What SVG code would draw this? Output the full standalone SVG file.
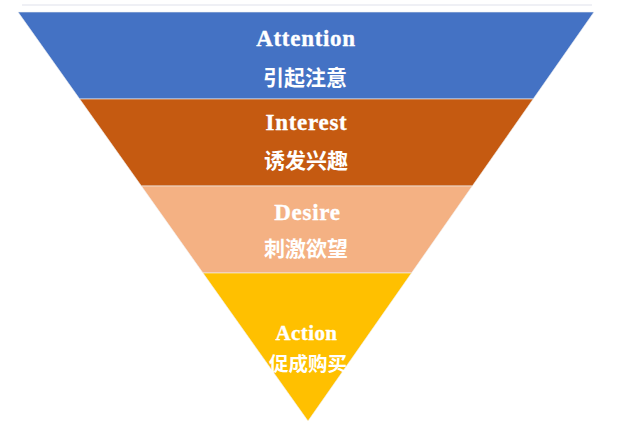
<svg xmlns="http://www.w3.org/2000/svg" width="640" height="425" viewBox="0 0 640 425">
  <style>
    .en { font-family: "Liberation Serif", "Times New Roman", serif; font-weight: bold; font-size: 23px; letter-spacing: 0.7px; fill: #ffffff; stroke: #ffffff; stroke-width: 0.35; text-anchor: middle; }
    .zh { font-family: "Noto Sans CJK SC", "Noto Sans CJK TC", sans-serif; font-weight: bold; font-size: 21px; fill: #ffffff; text-anchor: middle; }
    .band { stroke: #f2f2f2; stroke-width: 0.6; }
  </style>
  <rect width="640" height="425" fill="#ffffff"/>
  <line x1="22" y1="5" x2="592" y2="5" stroke="#dfe2ec" stroke-width="1.2"/>
  <g id="attention">
    <polygon class="band" points="18,12 594,12 533.2,99 79.7,99" fill="#4472C4"/>
    <text class="en" x="306" y="46">Attention</text>
    <text class="zh" x="305" y="85">引起注意</text>
  </g>
  <g id="interest">
    <polygon class="band" points="79.7,99 533.2,99 472.3,186 141.4,186" fill="#C55A11"/>
    <text class="en" x="306.5" y="130">Interest</text>
    <text class="zh" x="306" y="168">诱发兴趣</text>
  </g>
  <g id="desire">
    <polygon class="band" points="141.4,186 472.3,186 411.5,273 203,273" fill="#F4B183"/>
    <text class="en" x="307.5" y="220">Desire</text>
    <text class="zh" x="306" y="256">刺激欲望</text>
  </g>
  <g id="action">
    <polygon class="band" points="203,273 411.5,273 308,421" fill="#FFC000"/>
    <text class="en" x="306.5" y="340" style="font-size:21px;letter-spacing:0.4px">Action</text>
    <text class="zh" x="308" y="371" style="font-size:19.5px">促成购买</text>
  </g>
</svg>
